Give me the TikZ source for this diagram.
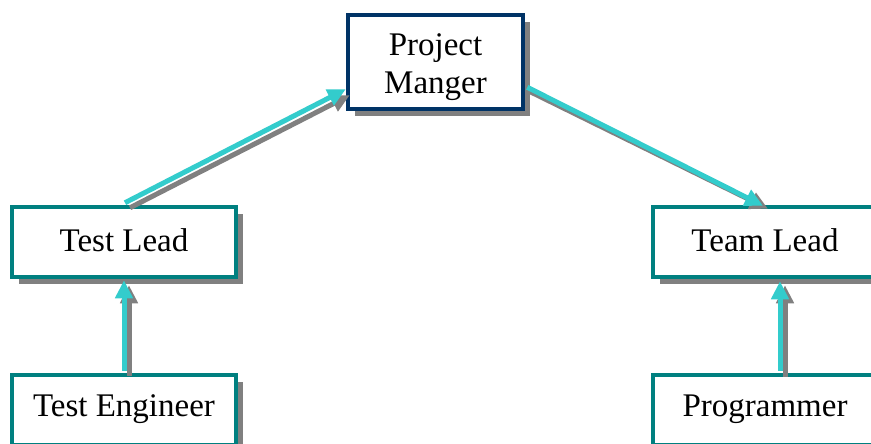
\documentclass[tikz,border=0pt]{standalone}
\usepackage{fontspec}
\setmainfont{Liberation Serif}
\usetikzlibrary{shadows,calc,arrows.meta}
\definecolor{navy}{HTML}{003366}
\definecolor{tealc}{HTML}{008080}
\definecolor{cyanc}{HTML}{33CCCC}
\definecolor{shadowc}{HTML}{808080}
\newcommand{\shiftdown}[2]{\raisebox{-#1}[\height][\depth]{#2}}
\begin{document}
\begin{tikzpicture}[x=1pt,y=-1pt,
  box/.style={draw=tealc, line width=4.5pt, fill=white, minimum width=224pt, minimum height=70pt,
    inner sep=0pt, align=center, font=\fontsize{33}{38}\selectfont,
    drop shadow={shadow xshift=7pt, shadow yshift=-7pt, fill=shadowc, opacity=1}},
  pmbox/.style={box, draw=navy, minimum width=175pt, minimum height=94pt},
  shadowarrow/.style={draw=shadowc, line width=5pt, -{Triangle[length=18pt,width=17pt]}},
  mainarrow/.style={draw=cyanc, line width=5pt, -{Triangle[length=18pt,width=17pt]}}]
\clip (0,0) rectangle (871,444);
\fill[white] (0,0) rectangle (871,444);
\node[pmbox] (pm) at (435.5,62) {\shiftdown{5pt}{Project}\\\shiftdown{5pt}{Manger}};
\node[box] (tl) at (124,242) {\shiftdown{-2pt}{Test Lead}};
\node[box] (te) at (124,410) {\shiftdown{-1pt}{Test Engineer}};
\node[box] (tm) at (765,242) {\shiftdown{-2pt}{Team Lead}};
\node[box] (pg) at (765,410) {\shiftdown{-1pt}{Programmer}};
% Test Lead -> Project Manger
\draw[shadowarrow] ($(tl.north)+(6,3)$) -- ($(pm.south west)+(4,-16)$);
\draw[mainarrow] ($(tl.north)+(1,-2)$) -- ($(pm.south west)+(0,-22)$);
% Project Manger -> Team Lead
\draw[shadowarrow] ($(pm.south east)+(4,-20)$) -- ($(tm.north)+(3,4)$);
\draw[mainarrow] ($(pm.south east)+(2,-24)$) -- ($(tm.north)+(-2,1)$);
% Test Engineer -> Test Lead
\draw[shadowarrow] ($(te.north)+(5,3)$) -- ($(tl.south)+(5,6)$);
\draw[mainarrow] ($(te.north)+(0,-2)$) -- ($(tl.south)+(0,1)$);
% Programmer -> Team Lead
\draw[shadowarrow] ($(pg.north)+(20,4)$) -- ($(tm.south)+(20,6)$);
\draw[mainarrow] ($(pg.north)+(15,-2)$) -- ($(tm.south)+(15,2)$);
\end{tikzpicture}
\end{document}
